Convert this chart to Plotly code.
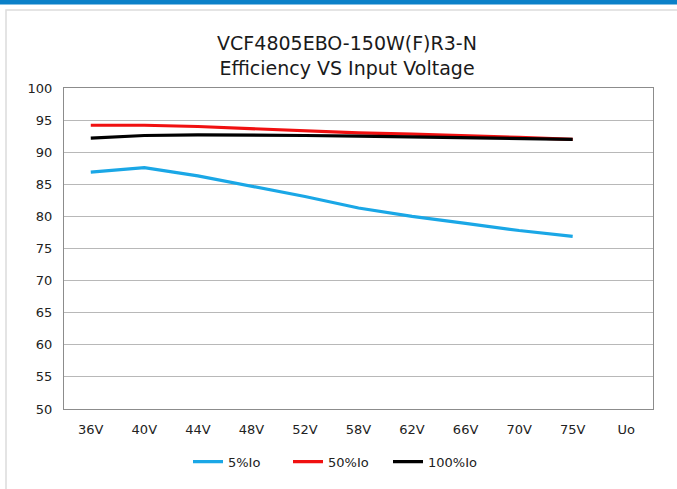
import plotly.graph_objects as go

categories = ["36V", "40V", "44V", "48V", "52V", "58V", "62V", "66V", "70V", "75V", "Uo"]
load_5 = [86.9, 87.6, 86.3, 84.7, 83.1, 81.3, 80.0, 78.9, 77.8, 76.9]
load_50 = [94.2, 94.2, 94.0, 93.65, 93.3, 93.0, 92.8, 92.6, 92.3, 92.0]
load_100 = [92.2, 92.6, 92.7, 92.7, 92.6, 92.5, 92.4, 92.3, 92.1, 92.0]
series_names = ["5%Io", "50%Io", "100%Io"]
colors = ["#1aa7e6", "#f01010", "#000000"]

W, H = 677, 489
L, R, T, B = 64, 653, 88, 411

FONT = "DejaVu Sans"

fig = go.Figure()
for name, vals, col in zip(series_names, [load_5, load_50, load_100], colors):
    fig.add_trace(go.Scatter(
        x=categories[:len(vals)], y=vals, mode="lines", name=name,
        line=dict(color=col, width=3.2)
    ))

def px_x(p):
    return (p - L) / (R - L)

def px_y(p):
    return (B - p) / (B - T)

shapes = [
    dict(type="rect", xref="paper", yref="paper", x0=px_x(-5), x1=px_x(W + 5),
         y0=px_y(4), y1=px_y(-5), fillcolor="#0a80c8", line=dict(width=0), layer="above"),
    dict(type="rect", xref="paper", yref="paper", x0=px_x(6), x1=px_x(W + 20),
         y0=px_y(H + 20), y1=px_y(9.5), fillcolor="rgba(0,0,0,0)",
         line=dict(color="#dcdcdc", width=1.5), layer="below"),
]

fig.update_layout(
    width=W, height=H,
    margin=dict(l=L, r=W - R, t=T, b=H - B),
    paper_bgcolor="white", plot_bgcolor="white",
    font=dict(family=FONT, color="#222222", size=13),
    title=dict(
        text="VCF4805EBO-150W(F)R3-N<br>Efficiency VS Input Voltage",
        x=347 / W, xanchor="center", y=1 - 50 / H, yanchor="middle",
        font=dict(family=FONT, size=19, color="#1a1a1a"),
    ),
    showlegend=True,
    legend=dict(orientation="h", x=px_x(338), xanchor="center", y=px_y(464), yanchor="middle",
                font=dict(family=FONT, size=13, color="#222222"),
                itemwidth=30, tracegroupgap=0, bgcolor="rgba(0,0,0,0)",
                entrywidth=55, entrywidthmode="pixels"),
    shapes=shapes,
    xaxis=dict(
        type="category", categoryorder="array", categoryarray=categories,
        range=[-0.5, len(categories) - 0.5], showgrid=False,
        showline=True, linecolor="#8c8c8c", linewidth=1, mirror=True,
        ticks="", tickfont=dict(family=FONT, size=13, color="#222222"),
        ticklabelstandoff=8, fixedrange=True,
    ),
    yaxis=dict(
        range=[50, 100], dtick=5, showgrid=True, gridcolor="#b8b8b8", gridwidth=1,
        showline=True, linecolor="#8c8c8c", linewidth=1, mirror=True,
        ticks="", zeroline=False,
        tickfont=dict(family=FONT, size=13, color="#222222"),
        ticklabelstandoff=8,
    ),
)

fig.write_html("out.html", config={"displayModeBar": False},
               post_script="document.body.style.margin='0';document.body.style.overflow='hidden';")
